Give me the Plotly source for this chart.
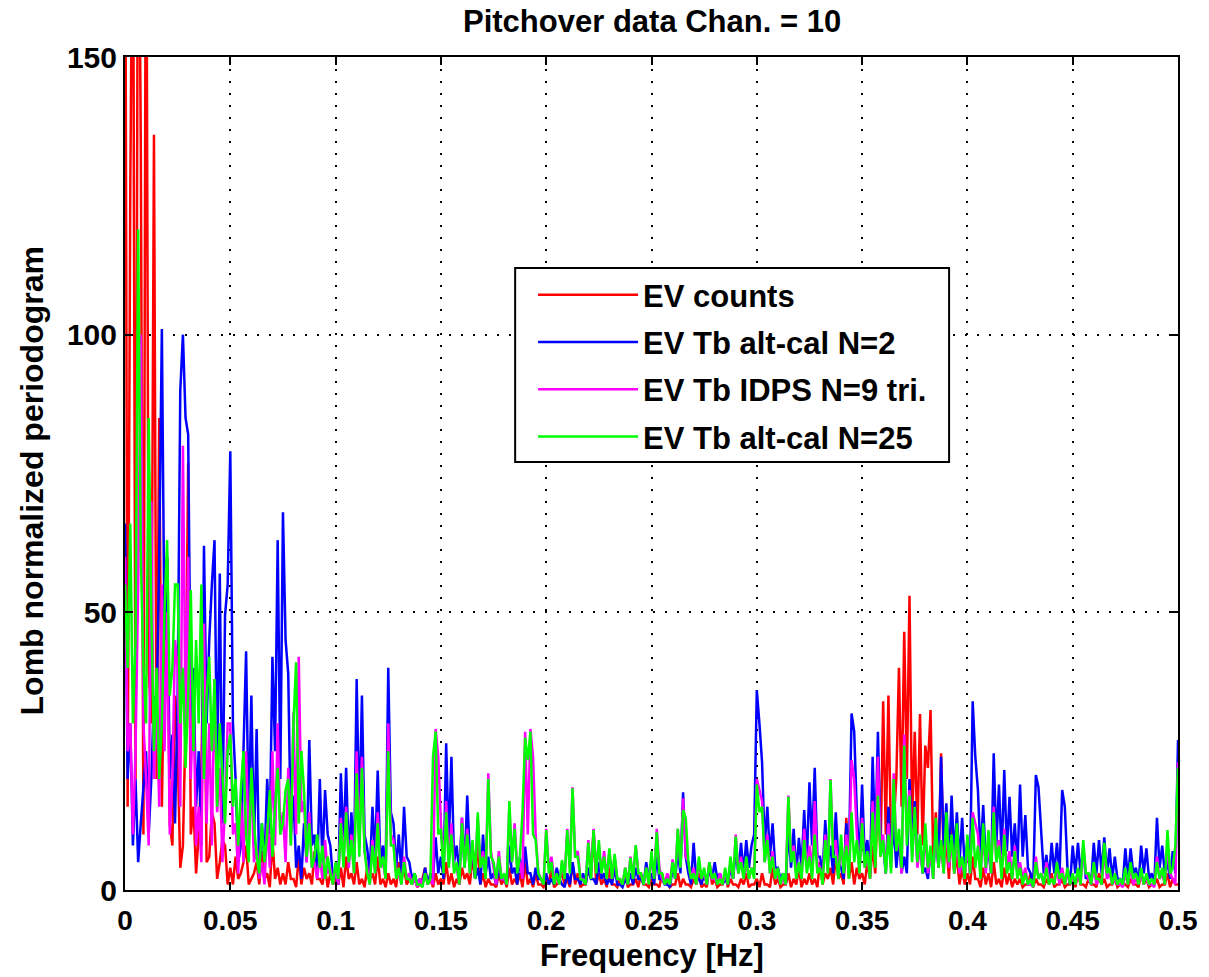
import numpy as np
import plotly.graph_objects as go

# Frequency grid of the Lomb periodogram [Hz]
freq_hz = np.linspace(0.0, 0.5, 401)

# Lomb normalized periodogram for each data product (one row per 0.025 Hz)
ev_counts = [
    200, 15, 126, 190, 20, 200, 134, 10, 200, 40, 30, 136, 20, 85, 15, 45, 60, 12, 8, 35,
    25, 4, 8, 30, 77, 10, 15, 3, 10, 22, 48, 5, 6, 14, 12, 2, 5, 9, 8, 1,
    4, 1, 6, 2, 3, 5, 8, 1, 2, 3, 5, 1, 7, 2, 3, 0.5, 9, 2, 4, 1,
    3, 1, 5, 2, 2, 0.5, 6, 1, 4, 2, 3, 1, 7, 2, 2, 1, 4, 0.5, 3, 1,
    2, 1, 4, 0.5, 6, 2, 3, 1, 5, 1, 2, 0.5, 4, 2, 3, 1, 6, 1, 2, 0.5,
    3, 1, 2, 0.5, 5, 2, 4, 1, 2, 1, 3, 0.5, 1, 2, 4, 1, 2, 0.5, 3, 1,
    2, 1, 5, 1, 3, 0.5, 2, 1, 4, 2, 3, 1, 6, 2, 8.6, 1, 3, 0.5, 2, 1,
    1, 0.5, 3, 1, 2, 0.5, 4, 1, 2, 1, 3, 0.5, 5, 1, 2, 0.5, 3, 1, 1, 0.5,
    2, 1, 4, 0.5, 1, 2, 3, 1, 2, 0.5, 5, 1, 3, 0.5, 1, 1, 4, 2, 10.8, 1,
    3, 1, 2, 0.5, 4, 1, 1, 0.5, 2, 1, 3, 0.5, 1, 1, 2, 0.5, 3, 1, 1, 0.5,
    2, 1, 1, 0.5, 3, 1, 2, 0.5, 1, 1, 3, 0.5, 2, 1, 1, 0.5, 2, 1, 3, 0.5,
    1, 0.5, 5, 1, 2, 0.5, 1, 1, 3, 0.5, 2, 1, 1, 0.5, 2, 1, 3, 0.5, 1, 1,
    2, 0.5, 3, 1, 1, 0.5, 4, 1, 2, 0.5, 1, 1, 3, 0.5, 2, 1, 4, 0.5, 2, 1,
    3, 1, 2, 0.5, 5, 1, 3, 2, 4, 1, 6, 2, 3, 1, 13, 2, 5, 1, 4, 2,
    3, 1, 5, 2, 8, 3, 18, 6, 34, 10, 35, 8, 12, 20, 40, 15, 46.5, 20, 53, 12,
    28.5, 10, 31.7, 8, 26, 22, 32.4, 6, 14, 4, 24.6, 5, 8.5, 2, 12, 3, 6, 1, 4, 1,
    3, 1, 6, 2, 2, 0.5, 4, 1, 3, 0.5, 5, 1, 2, 0.5, 4, 1, 3, 0.5, 2, 1,
    2, 0.5, 1, 1, 3, 0.5, 2, 1, 1, 0.5, 2, 1, 3, 0.5, 1, 1, 2, 0.5, 1, 1,
    2, 0.5, 3, 1, 1, 0.5, 2, 1, 1, 0.5, 3, 1, 2, 0.5, 1, 1, 2, 0.5, 1, 1,
    1, 0.5, 2, 1, 1, 0.5, 3, 1, 2, 0.5, 1, 1, 2, 0.5, 1, 1, 3, 0.5, 2, 1,
    1,
]

tb_altcal_n2 = [
    66, 20, 30, 8, 20, 5, 12, 18, 25, 10, 20, 35, 32, 60, 101, 45, 60, 20, 28, 12,
    35, 90, 100, 85, 82, 30, 40, 15, 25, 8, 62, 30, 45, 55, 63, 20, 57, 12, 49.5, 55,
    79, 30, 20, 5, 8, 25, 43, 12, 35, 8, 29, 3, 12, 5, 20, 10, 42, 25, 63, 20,
    68, 45, 39, 10, 17, 4, 8, 2, 12, 5, 27, 8, 10, 3, 20, 5, 18, 10, 8, 2,
    3, 1, 21, 8, 22, 6, 14, 5, 38, 12, 35, 10, 7.5, 3, 15, 6, 21.5, 5, 8, 3,
    40, 14, 12, 4, 10, 3, 15, 6, 5, 2, 3, 1, 2, 1, 4, 1, 3, 2, 9.5, 3,
    6, 2, 26.4, 8, 24, 5, 8, 3, 13, 4, 17, 6, 7, 2, 4, 1, 10, 3, 6, 2,
    3, 1, 4, 2, 2, 1, 8, 3, 4, 1, 6, 2, 7.8, 3, 3, 1, 4, 2, 2, 1,
    3, 1, 2, 1, 4, 2, 1, 0.5, 3, 1, 5, 2, 2, 1, 3, 1, 4, 2, 2, 1,
    5, 2, 3, 1, 2, 1, 4, 1, 1, 0.5, 2, 1, 3, 1, 4, 2, 2, 1, 5, 2,
    3, 1, 6, 2, 2, 1, 1, 0.5, 4, 2, 7, 3, 17.6, 6, 3, 1, 8.5, 2, 2, 1,
    3, 1, 4, 2, 5, 2, 3, 1, 2, 1, 4, 2, 7, 3, 8.5, 3, 9, 4, 8, 10,
    36, 30, 23, 8, 15, 6, 12, 4, 4, 2, 3, 1, 11, 4, 11, 3, 9.4, 4, 14.4, 5,
    19.4, 8, 22, 6, 6, 3, 12.6, 5, 8, 3, 14, 5, 4, 2, 12, 6, 31.8, 28.5, 14, 5,
    19, 6, 9, 3, 24, 8, 28.5, 10, 8, 3, 15, 5, 12, 4, 9, 3, 6, 3, 20, 8,
    16, 5, 9, 3, 4, 2, 7, 3, 11, 4, 24, 8, 15.6, 5, 17, 6, 14, 5, 13, 4,
    9, 3, 34, 24, 18, 6, 15.3, 5, 7, 3, 24.6, 8, 19, 6, 21.6, 7, 16.8, 6, 12, 4,
    19, 6, 13.5, 4, 3, 1, 20.7, 18.5, 10, 3, 6.3, 2, 8.5, 3, 8.5, 3, 18, 15, 4, 1,
    8, 3, 8.5, 3, 7.5, 2, 3, 1, 8.5, 3, 9, 3, 9.5, 3, 7.5, 2, 6, 2, 2, 1,
    7.5, 2, 7.5, 3, 4, 1, 8, 3, 7.5, 2, 3, 1, 13, 4, 8, 3, 5, 2, 7, 3,
    27,
]

tb_idps_n9 = [
    60, 25, 30, 10, 25, 55, 100, 30, 20, 8, 70, 20, 35, 15, 55, 25, 50, 10, 20, 45,
    40, 15, 80, 30, 60, 20, 35, 8, 15, 5, 48, 12, 30, 8, 38, 14, 22, 5, 15, 30,
    30, 10, 12, 3, 16, 5, 25, 8, 20, 5, 8, 2, 5, 1, 12, 4, 25, 8, 30, 10,
    14, 5, 22, 8, 32, 10, 42, 14, 16, 5, 14, 4, 5, 2, 6, 2, 9, 3, 4, 1,
    4, 1, 13, 5, 15, 4, 10, 3, 25, 8, 24, 7, 4, 1, 9, 3, 14, 4, 5, 2,
    30, 10, 9, 3, 3, 1, 6, 2, 3, 1, 2, 0.5, 2, 1, 3, 1, 2, 1, 29, 24,
    12, 4, 16, 5, 12, 4, 4, 1, 13, 4, 11, 3, 8, 3, 13, 4, 7, 2, 21, 7,
    4, 1, 7, 2, 2, 1, 15, 5, 12, 4, 5, 2, 28.5, 10, 29, 24, 10, 3, 2, 1,
    11, 4, 6, 2, 2, 1, 5, 2, 11, 4, 18.5, 6, 7, 2, 2, 1, 9, 3, 11, 4,
    8, 3, 7, 2, 7, 2, 6, 2, 2, 1, 4, 1, 6, 2, 8, 3, 3, 1, 4, 1,
    6, 2, 11, 4, 2, 1, 3, 1, 5.5, 2, 11, 4, 16.5, 6, 5, 2, 4, 1, 5, 2,
    3, 1, 5, 2, 2, 1, 3, 1, 3, 1, 5, 2, 10, 3, 6, 2, 5, 2, 4, 3,
    20, 18, 16, 5, 10, 3, 7, 2, 3, 1, 2, 1, 17, 6, 8, 3, 5, 2, 11, 4,
    8, 3, 16, 5, 4, 2, 10, 3, 20, 7, 9, 3, 8, 3, 10, 4, 23.4, 20, 10, 3,
    13, 4, 6, 2, 16, 5, 24, 8, 10, 3, 12, 4, 21, 7, 10, 3, 28, 10, 18, 6,
    14, 4, 8, 3, 10, 3, 7, 2, 12, 4, 8, 3, 12, 4, 9, 3, 10, 3, 5, 2,
    8, 3, 14, 12, 10, 3, 10, 3, 9, 3, 15, 5, 9, 3, 11, 4, 7, 2, 8, 3,
    5, 2, 4, 1, 1, 0.5, 6, 2, 3, 1, 5, 2, 2, 1, 4, 1, 4, 1, 3, 1,
    2, 1, 3, 1, 8, 3, 2, 1, 4, 1, 2, 1, 7, 2, 3, 1, 2, 1, 1, 0.5,
    3, 1, 4, 1, 2, 1, 3, 1, 2, 1, 1, 0.5, 6, 2, 3, 1, 8, 3, 2, 1,
    23,
]

tb_altcal_n25 = [
    55, 40, 66, 30, 45, 119, 60, 40, 30, 85, 50, 25, 40, 20, 30, 50, 63, 35, 40, 55,
    55, 30, 40, 22, 35, 54, 25, 45, 30, 55, 20, 35, 42, 25, 38, 15, 30, 20, 12, 25,
    28, 15, 20, 8, 18, 25, 10, 5, 22, 12, 6, 3, 12, 5, 10, 18, 6, 15, 22, 10,
    12, 18, 20, 8, 30, 41, 12, 25, 18, 6, 12, 4, 6, 10, 4, 8, 2, 6, 3, 1,
    5, 2, 12, 4, 14, 5, 9, 3, 21, 6, 22, 7, 3, 1, 8, 3, 12, 4, 6, 2,
    25, 8, 8, 2, 4, 1, 5, 2, 2, 1, 3, 1, 1, 0.5, 3, 1, 2, 24, 28.5, 10,
    11, 3, 14, 4, 10, 3, 5, 1, 12, 4, 10, 3, 9, 2, 14, 4, 6, 2, 20, 6,
    5, 2, 6, 2, 3, 1, 16, 5, 11, 3, 6, 14, 27.4, 23.4, 28.5, 10, 9, 3, 2, 1,
    10.8, 3, 5, 1, 3, 1, 5.4, 2, 10.8, 3, 18.3, 6, 6, 2, 1.8, 1, 8.5, 2, 10.8, 3,
    9, 3, 6, 2, 7.5, 2, 6.5, 2, 2, 1, 4, 1, 5.8, 2, 8.1, 3, 3, 1, 4, 1,
    7, 2, 10.4, 3, 3, 1, 2, 1, 5, 2, 11, 4, 14.4, 13, 5, 2, 3, 1, 6, 2,
    4, 1, 5, 2, 3, 1, 2, 1, 4, 1, 6, 2, 9.6, 3, 5, 2, 6, 2, 4, 2,
    19, 14, 15, 5, 9, 3, 6, 2, 4, 1, 3, 1, 16.8, 5, 7, 2, 5, 2, 9, 3,
    6, 2, 10, 3, 4, 1, 9, 3, 19.8, 6, 6, 2, 10, 3, 8, 2, 14, 5, 9, 3,
    12, 4, 7, 2, 14, 4, 17, 6, 9, 3, 10, 3, 20, 7, 11, 4, 26, 8, 17, 5,
    15, 5, 10, 3, 12, 4, 8, 2, 13, 4, 9, 3, 14, 5, 10, 3, 12, 4, 6, 2,
    10, 3, 13, 4, 8, 2, 12, 4, 10.8, 3, 14, 5, 8, 2, 10, 3, 5, 2, 7, 2,
    4, 1, 3, 1, 2, 0.5, 5, 2, 3, 1, 4, 1, 2, 1, 5, 2, 3, 1, 4, 1,
    3, 1, 4, 1, 9, 3, 3, 1, 5, 2, 2, 1, 8.5, 3, 4, 1, 3, 1, 2, 1,
    4, 1, 5, 2, 3, 1, 4, 1, 3, 1, 2, 1, 5, 2, 4, 1, 10.8, 3, 4, 8,
    22,
]

series_names = ["EV counts", "EV Tb alt-cal N=2", "EV Tb IDPS N=9 tri.", "EV Tb alt-cal N=25"]
series_colors = ["#FF0000", "#0000FF", "#FF00FF", "#00FF00"]
series_values = [ev_counts, tb_altcal_n2, tb_idps_n9, tb_altcal_n25]

x_ticks = [0, 0.05, 0.1, 0.15, 0.2, 0.25, 0.3, 0.35, 0.4, 0.45, 0.5]
x_ticklabels = ["0", "0.05", "0.1", "0.15", "0.2", "0.25", "0.3", "0.35", "0.4", "0.45", "0.5"]
y_ticks = [0, 50, 100, 150]

FONT = "Liberation Sans"

# Plot area in pixels (left, right, top, bottom)
PX_L, PX_R, PX_T, PX_B = 125, 1183, 57, 890
PW, PH = PX_R - PX_L, PX_B - PX_T


def px_x(px):
    return (px - PX_L) / PW


def px_y(py):
    return (PX_B - py) / PH


def bold(size):
    return dict(family=FONT, size=size, color="black", weight="bold")


fig = go.Figure()
for name, color, vals in zip(series_names, series_colors, series_values):
    fig.add_trace(go.Scatter(
        x=freq_hz[:len(vals)], y=vals, mode="lines", name=name,
        line=dict(color=color, width=2.5),
        legendgroup=name,
    ))

axis_common = dict(
    showline=True, linecolor="black", linewidth=2, mirror="ticks",
    ticks="inside", ticklen=8, tickwidth=1.5, tickcolor="black",
    showgrid=True, gridcolor="black", gridwidth=1.5, griddash="2px,10px",
    zeroline=False,
)

fig.update_xaxes(range=[0, 0.5], tickvals=x_ticks, ticktext=x_ticklabels,
                 ticklabelstandoff=4, tickfont=bold(28), **axis_common)
fig.update_yaxes(range=[0, 150], tickvals=y_ticks, ticklabelstandoff=0,
                 tickfont=bold(30), **axis_common)

fig.update_layout(
    width=1209, height=977,
    margin=dict(l=PX_L, r=1209 - PX_R, t=PX_T, b=977 - PX_B),
    plot_bgcolor="white", paper_bgcolor="white",
    showlegend=True,
    legend=dict(
        x=px_x(535), y=px_y(268), xanchor="left", yanchor="top",
        bgcolor="rgba(0,0,0,0)", borderwidth=0,
        font=bold(31), itemwidth=100, tracegroupgap=4,
    ),
    shapes=[
        # legend frame
        dict(type="rect", xref="paper", yref="paper", layer="above",
             x0=px_x(517), x1=px_x(953), y0=px_y(462), y1=px_y(268),
             fillcolor="white", line=dict(color="black", width=2)),
    ],
    annotations=[
        dict(text="Pitchover data Chan. = 10", x=0.5, y=px_y(22), xref="paper", yref="paper",
             yanchor="middle", showarrow=False, font=bold(31)),
        dict(text="Frequency [Hz]", x=0.5, y=px_y(955), xref="paper", yref="paper",
             yanchor="middle", showarrow=False, font=bold(31)),
        dict(text="Lomb normalized periodogram", x=px_x(32), y=px_y(481), xref="paper", yref="paper",
             xanchor="center", yanchor="middle", textangle=-90, showarrow=False, font=bold(32)),
    ],
)

fig.write_html("out.html")
